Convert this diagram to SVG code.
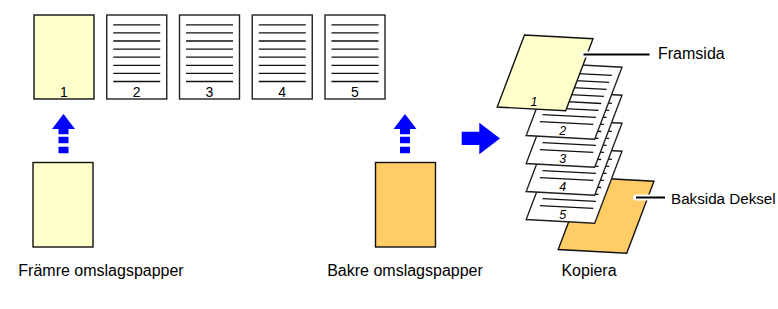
<svg xmlns="http://www.w3.org/2000/svg" xmlns:xlink="http://www.w3.org/1999/xlink" width="778" height="309" viewBox="0 0 778 309">
<style>
.lbl{font-family:"Liberation Sans",Arial,sans-serif;font-size:16px;fill:#000}
.num{font-family:"Liberation Sans",Arial,sans-serif;font-size:14px;fill:#000;text-anchor:middle}
.snum{font-family:"Liberation Sans",Arial,sans-serif;font-size:12.5px;font-style:italic;fill:#000;text-anchor:middle}
.page{fill:#fff;stroke:#222;stroke-width:1.4}
.yel{fill:#ffffcc;stroke:#111;stroke-width:1.4}
.org{fill:#ffcc66;stroke:#111;stroke-width:1.4}
.ln{stroke:#111;stroke-width:1.3}
.blue{fill:#0000ff}
.halo{stroke:#fff;stroke-width:6;stroke-linecap:round}
.lead{stroke:#000;stroke-width:2}
</style>
<defs>
<g id="toplines">
<path class="ln" d="M6.5 24.8H53.5M6.5 32.9H53.5M6.5 41H53.5M6.5 49.1H53.5M6.5 57.2H53.5M6.5 65.3H53.5M6.5 73.4H53.5M6.5 81.5H53.5"/>
</g>
<polygon id="sheet" points="0,0 68.5,3.7 41.2,75.7 -27.3,72"/>
<path id="sheetlines" class="ln" d="M4.94 9.08L58.37 11.97M2.3 16.06L55.73 18.95M-0.35 23.05L53.08 25.94M-3 30.03L50.43 32.92M-5.68 37.09L47.75 39.98M-8.32 44.07L45.11 46.96M-10.97 51.06L42.46 53.95M-13.62 58.04L39.81 60.93"/>
</defs>

<g id="top-page-1">
<rect class="yel" x="34" y="15" width="60" height="84"/>
<text class="num" x="64" y="96.5">1</text>
</g>
<g id="top-page-2" transform="translate(106.75,0)">
<rect class="page" x="0" y="15" width="60" height="84"/>
<use xlink:href="#toplines"/>
<text class="num" x="30" y="96.5">2</text>
</g>
<g id="top-page-3" transform="translate(179.5,0)">
<rect class="page" x="0" y="15" width="60" height="84"/>
<use xlink:href="#toplines"/>
<text class="num" x="30" y="96.5">3</text>
</g>
<g id="top-page-4" transform="translate(252.25,0)">
<rect class="page" x="0" y="15" width="60" height="84"/>
<use xlink:href="#toplines"/>
<text class="num" x="30" y="96.5">4</text>
</g>
<g id="top-page-5" transform="translate(325,0)">
<rect class="page" x="0" y="15" width="60" height="84"/>
<use xlink:href="#toplines"/>
<text class="num" x="30" y="96.5">5</text>
</g>

<g id="front-cover">
<rect class="yel" x="33" y="162.5" width="60" height="84.5"/>
<text class="lbl" x="101" y="276" text-anchor="middle">Främre omslagspapper</text>
</g>
<g id="back-cover">
<rect class="org" x="375.5" y="162.5" width="60" height="84.5"/>
<text class="lbl" x="405" y="276" text-anchor="middle">Bakre omslagspapper</text>
</g>

<g id="connectors">
<path class="blue" d="M63.5 114L75 129H68.5V134.3H58.5V129H52ZM58.5 136.7H68.5V143.3H58.5ZM58.5 146.7H68.5V153.3H58.5Z"/>
<path class="blue" d="M405 114L416.5 129H410V134.3H400V129H393.5ZM400 136.7H410V143.3H400ZM400 146.7H410V153.3H400Z"/>
<path class="blue" d="M461.7 131.7H479.3V122.7L500 138.5L479.3 154.3V145H461.7Z"/>
</g>

<g id="output-stack">
<g id="stack-back" transform="translate(585.5,177.5)">
<use xlink:href="#sheet" class="org"/>
</g>
<g id="stack-5" transform="translate(553.5,147.5)">
<use xlink:href="#sheet" class="page"/>
<use xlink:href="#sheetlines"/>
<text class="snum" x="9.3" y="71.5">5</text>
</g>
<g id="stack-4" transform="translate(553.5,119.5)">
<use xlink:href="#sheet" class="page"/>
<use xlink:href="#sheetlines"/>
<text class="snum" x="9.3" y="71.5">4</text>
</g>
<g id="stack-3" transform="translate(553.5,91.5)">
<use xlink:href="#sheet" class="page"/>
<use xlink:href="#sheetlines"/>
<text class="snum" x="9.3" y="71.5">3</text>
</g>
<g id="stack-2" transform="translate(553.5,63.5)">
<use xlink:href="#sheet" class="page"/>
<use xlink:href="#sheetlines"/>
<text class="snum" x="9.3" y="71.5">2</text>
</g>
<g id="stack-1" transform="translate(524.5,35)">
<use xlink:href="#sheet" class="yel"/>
<text class="snum" x="9.5" y="71">1</text>
</g>
<text class="lbl" x="589" y="276" text-anchor="middle">Kopiera</text>
</g>

<g id="callout-front">
<line class="halo" x1="583.5" y1="54.5" x2="649.5" y2="54.5"/>
<line class="lead" x1="583.5" y1="54.5" x2="649.5" y2="54.5"/>
<text class="lbl" x="658" y="59">Framsida</text>
</g>
<g id="callout-back">
<line class="halo" x1="636" y1="197.5" x2="665" y2="197.5"/>
<line class="lead" x1="636" y1="197.5" x2="665" y2="197.5"/>
<text class="lbl" x="671" y="204" style="font-size:15.2px">Baksida Deksel</text>
</g>
</svg>
